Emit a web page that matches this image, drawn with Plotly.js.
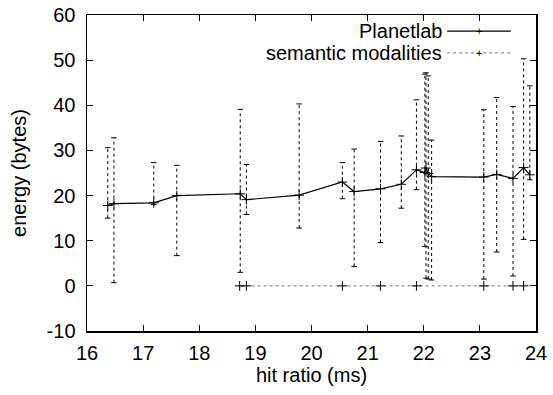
<!DOCTYPE html>
<html>
<head>
<meta charset="utf-8">
<script src="https://cdn.plot.ly/plotly-3.0.1.min.js"></script>
<style>html,body{margin:0;padding:0;background:#fff;}#chart{width:553px;height:395px;}</style>
</head>
<body>
<div id="chart"></div>
<script>
// Planetlab series (with error ranges)
const planetX    = [16.37, 16.48, 17.19, 17.60, 18.73, 18.84, 19.78, 20.55, 20.76, 21.23, 21.60, 21.87, 22.02, 22.04, 22.08, 22.14, 23.07, 23.30, 23.59, 23.78, 23.89];
const planetY    = [17.8, 18.2, 18.4, 20.0, 20.4, 19.1, 20.1, 23.0, 20.9, 21.5, 22.5, 25.7, 25.1, 26.1, 24.9, 24.2, 24.1, 24.7, 23.8, 26.2, 24.6];
const planetLow  = [15.0, 0.7, 18.0, 6.7, 3.0, 15.8, 12.8, 19.3, 4.3, 9.6, 17.2, 21.3, 8.7, 1.7, 1.5, 1.3, 1.5, 7.5, 2.2, 10.3, 23.5];
const planetHigh = [30.6, 32.8, 27.3, 26.7, 39.1, 26.9, 40.3, 27.3, 30.3, 32.0, 33.2, 41.2, 46.9, 47.2, 46.5, 32.3, 39.0, 41.7, 39.7, 50.3, 44.3];

// semantic modalities series
const semX = [18.72, 18.84, 20.55, 21.23, 21.87, 23.07, 23.59, 23.78];
const semY = [0, 0, 0, 0, 0, 0, 0, 0];

const xTicks = [16, 17, 18, 19, 20, 21, 22, 23, 24];
const yTicks = [-10, 0, 10, 20, 30, 40, 50, 60];
const seriesNames = ["Planetlab", "semantic modalities"];

const FONT = "Liberation Sans, Arial, Helvetica, sans-serif";
const FS = 20;

// error bars as dotted segments built from the arrays
const ebX = [], ebY = [];
planetX.forEach((x, i) => { ebX.push(x, x, null); ebY.push(planetLow[i], planetHigh[i], null); });

const traces = [
  {
    x: ebX, y: ebY, mode: "lines+markers", type: "scatter", showlegend: false, hoverinfo: "skip",
    line: {color: "#000", width: 1, dash: "dot"},
    marker: {symbol: "line-ew", size: 4, line: {color: "#000", width: 1}}
  },
  {
    x: semX, y: semY, name: seriesNames[1], mode: "lines+markers", type: "scatter", showlegend: false,
    line: {color: "#777", width: 1, dash: "dot"},
    marker: {symbol: "cross-thin", size: 7, line: {color: "#000", width: 1}}
  },
  {
    x: planetX, y: planetY, name: seriesNames[0], mode: "lines+markers", type: "scatter", showlegend: false,
    line: {color: "#000", width: 1.2},
    marker: {symbol: "cross-thin", size: 7, line: {color: "#000", width: 1}}
  }
];

// custom gnuplot-style key (text right, sample on the right)
const keyRows = [0.949, 0.880];
const keyText = 0.795, keyL = 0.802, keyR = 0.944, keyM = 0.873;
const shapes = [
  {type: "line", xref: "paper", yref: "paper", x0: keyL, x1: keyR, y0: keyRows[0], y1: keyRows[0], line: {color: "#000", width: 1.2}},
  {type: "line", xref: "paper", yref: "paper", x0: keyL, x1: keyR, y0: keyRows[1], y1: keyRows[1], line: {color: "#777", width: 1, dash: "dot"}}
];
const annotations = [];
seriesNames.forEach((n, i) => {
  annotations.push({xref: "paper", yref: "paper", x: keyText, y: keyRows[i], text: n, showarrow: false,
    xanchor: "right", yanchor: "middle", font: {family: FONT, size: FS, color: "#000"}});
  annotations.push({xref: "paper", yref: "paper", x: keyM, y: keyRows[i], text: "+", showarrow: false,
    xanchor: "center", yanchor: "middle", font: {family: FONT, size: 11, color: "#000"}});
});

const axisCommon = {
  showgrid: false, zeroline: false, showline: true, mirror: "allticks", linecolor: "#000", linewidth: 1.5,
  ticks: "inside", ticklen: 6, tickwidth: 1, tickcolor: "#000",
  tickfont: {family: FONT, size: FS, color: "#000"}
};

const layout = {
  width: 553, height: 395,
  margin: {l: 87, r: 17, t: 15, b: 64},
  paper_bgcolor: "#fff", plot_bgcolor: "#fff",
  showlegend: false,
  xaxis: Object.assign({}, axisCommon, {
    range: [16, 24], tickvals: xTicks, ticktext: xTicks.map(String), ticklabelstandoff: 3,
    title: {text: "hit ratio (ms)", font: {family: FONT, size: FS, color: "#000"}, standoff: 2}
  }),
  yaxis: Object.assign({}, axisCommon, {
    range: [-10, 60], tickvals: yTicks, ticktext: yTicks.map(String), ticklabelstandoff: 6,
    title: {text: "energy (bytes)", font: {family: FONT, size: FS, color: "#000"}, standoff: 14}
  }),
  shapes: shapes,
  annotations: annotations
};

Plotly.newPlot("chart", traces, layout, {staticPlot: true, displayModeBar: false});
</script>
</body>
</html>
